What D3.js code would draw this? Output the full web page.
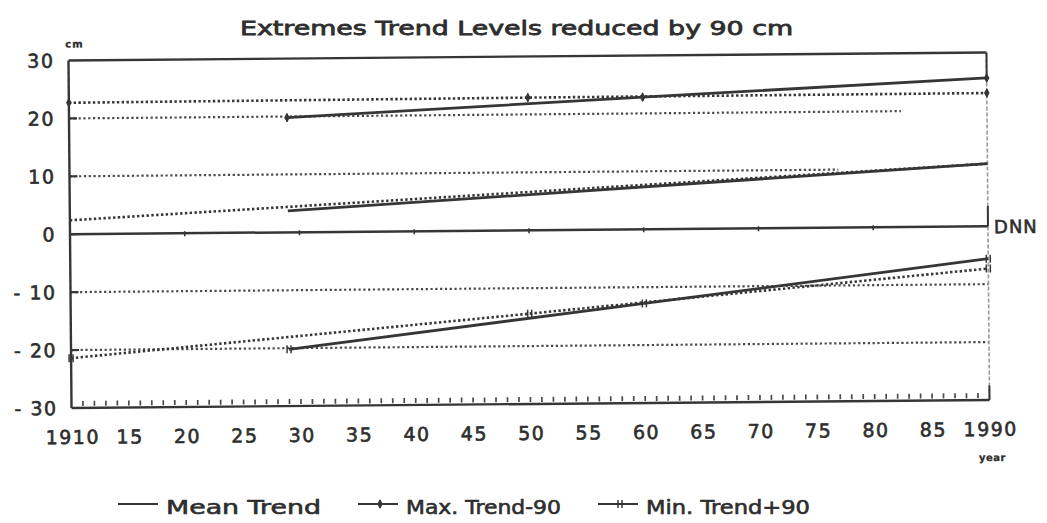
<!DOCTYPE html>
<html>
<head>
<meta charset="utf-8">
<script src="https://cdn.jsdelivr.net/npm/d3@7"></script>
<style>
  html, body { margin: 0; padding: 0; background: #ffffff; }
  svg { display: block; }
  text { font-family: "DejaVu Sans", "Liberation Sans", sans-serif; fill: #2e2e2e; stroke: #2e2e2e; stroke-width: 0.6px; }
</style>
</head>
<body>
<svg id="chart" width="1047" height="523"></svg>
<script>
// Axis ticks
const xTickYears  = [1910, 1915, 1920, 1925, 1930, 1935, 1940, 1945, 1950, 1955, 1960, 1965, 1970, 1975, 1980, 1985, 1990];
const xTickLabels = ["1910", "15", "20", "25", "30", "35", "40", "45", "50", "55", "60", "65", "70", "75", "80", "85", "1990"];
const yTicks      = [30, 20, 10, 0, -10, -20, -30];
const yTickLabels = ["30", "20", "10", "0", "- 10", "- 20", "- 30"];
const gridValues  = [20, 10, -10, -20];
const gridEndYear = [1982.5, 1977, 1990, 1990];
const zeroTickYears = [1920, 1930, 1940, 1950, 1960, 1970, 1980];

// Max. Trend - 90 cm
const maxFullYears = [1910, 1950, 1990];
const maxFull      = [22.7, 22.9, 23.0];
const maxLateYears = [1929, 1960, 1990];
const maxLate      = [19.8, 22.8, 25.6];

// Mean Trend
const meanFullYears = [1910, 1990];
const meanFull      = [2.4, 10.8];
const meanLateYears = [1929, 1990];
const meanLate      = [3.7, 10.8];

// Min. Trend + 90 cm
const minFullYears = [1910, 1950, 1990];
const minFull      = [-21.4, -14.4, -7.3];
const minLateYears = [1929, 1960, 1990];
const minLate      = [-20.2, -12.8, -5.6];

const legendLabels = ["Mean Trend", "Max. Trend-90", "Min. Trend+90"];

const ink = "#363636";
const svg = d3.select("#chart");

const x = d3.scaleLinear().domain([1910, 1990]).range([70, 988]);
const y = d3.scaleLinear().domain([-30, 30]).range([404, 56.5]);

// Title
svg.append("text")
  .attr("x", 240).attr("y", 35)
  .attr("textLength", 553).attr("lengthAdjust", "spacingAndGlyphs")
  .style("font-size", "20px")
  .style("stroke-width", "0.8px")
  .text("Extremes Trend Levels reduced by 90 cm");

// The plotted frame sits very slightly tilted
const g = svg.append("g").attr("transform", "rotate(-0.5, 528, 232)");

// Dotted grid lines
g.selectAll("line.grid").data(gridValues).join("line")
  .attr("class", "grid")
  .attr("x1", x(1910)).attr("x2", (d, i) => x(gridEndYear[i]))
  .attr("y1", d => y(d)).attr("y2", d => y(d))
  .attr("stroke", "#484848").attr("stroke-width", 2.2)
  .attr("stroke-dasharray", "2.2,2.6");

// Frame: top and left solid, right side faded
g.append("line")
  .attr("x1", x(1910)).attr("x2", x(1990))
  .attr("y1", y(30)).attr("y2", y(30))
  .attr("stroke", ink).attr("stroke-width", 2.4);
g.append("line")
  .attr("x1", x(1910)).attr("x2", x(1910))
  .attr("y1", y(30)).attr("y2", y(-30))
  .attr("stroke", ink).attr("stroke-width", 2.4);
g.append("line")
  .attr("x1", x(1990)).attr("x2", x(1990))
  .attr("y1", y(30)).attr("y2", y(-30))
  .attr("stroke", "#9a9a9a").attr("stroke-width", 1.6)
  .attr("stroke-dasharray", "4,2");
const rightSolid = [[30, 25.6], [3.5, 0], [-27.5, -30]];
g.selectAll("line.rs").data(rightSolid).join("line")
  .attr("class", "rs")
  .attr("x1", x(1990)).attr("x2", x(1990))
  .attr("y1", d => y(d[0])).attr("y2", d => y(d[1]))
  .attr("stroke", ink).attr("stroke-width", 2);

// Bottom axis at -30 with yearly inward ticks
g.append("line")
  .attr("x1", x(1910)).attr("x2", x(1990))
  .attr("y1", y(-30)).attr("y2", y(-30))
  .attr("stroke", ink).attr("stroke-width", 2.4);
g.selectAll("line.ytick").data(d3.range(1911, 1990)).join("line")
  .attr("class", "ytick")
  .attr("x1", d => x(d)).attr("x2", d => x(d))
  .attr("y1", y(-30) - 2).attr("y2", y(-30) - 7)
  .attr("stroke", "#4a4a4a").attr("stroke-width", 1.7);

// Left axis ticks
g.selectAll("line.ltick").data(yTicks.slice(1, -1)).join("line")
  .attr("class", "ltick")
  .attr("x1", x(1910)).attr("x2", x(1910) + 8)
  .attr("y1", d => y(d)).attr("y2", d => y(d))
  .attr("stroke", ink).attr("stroke-width", 2.2);

// Zero line (DNN) with decade ticks
g.append("line")
  .attr("x1", x(1910)).attr("x2", x(1990))
  .attr("y1", y(0)).attr("y2", y(0))
  .attr("stroke", ink).attr("stroke-width", 2.5);
g.selectAll("line.ztick").data(zeroTickYears).join("line")
  .attr("class", "ztick")
  .attr("x1", d => x(d)).attr("x2", d => x(d))
  .attr("y1", y(0) - 2).attr("y2", y(0) + 3)
  .attr("stroke", ink).attr("stroke-width", 1.6);

// Tick labels
g.selectAll("text.ylab").data(yTicks).join("text")
  .attr("class", "ylab")
  .attr("x", 56).attr("y", d => y(d) + 7)
  .attr("text-anchor", "end")
  .style("font-size", "19px")
  .style("letter-spacing", "1.5px")
  .text((d, i) => yTickLabels[i]);

g.selectAll("text.xlab").data(xTickYears).join("text")
  .attr("class", "xlab")
  .attr("x", d => x(d) + 1).attr("y", y(-30) + 36)
  .attr("text-anchor", "middle")
  .style("font-size", "19px")
  .style("letter-spacing", "1.5px")
  .text((d, i) => xTickLabels[i]);

g.append("text")
  .attr("x", x(1910) - 3).attr("y", y(30) - 13)
  .style("font-size", "10px").style("font-weight", "bold")
  .style("letter-spacing", "1px").style("stroke-width", "0.3px")
  .text("cm");
g.append("text")
  .attr("x", x(1990) - 11).attr("y", y(-30) + 61)
  .style("font-size", "10px").style("font-weight", "bold")
  .style("letter-spacing", "0.5px").style("stroke-width", "0.3px")
  .text("year");
g.append("text")
  .attr("x", x(1990) + 6).attr("y", y(0) + 7)
  .style("font-size", "18px")
  .style("letter-spacing", "1px")
  .text("DNN");

// Series lines
const line = d3.line().x(d => x(d[0])).y(d => y(d[1]));
const pairs = (yrs, vals) => yrs.map((yr, i) => [yr, vals[i]]);

const series = [
  { pts: pairs(maxFullYears, maxFull),   dotted: true,  mark: "max" },
  { pts: pairs(maxLateYears, maxLate),   dotted: false, mark: "max" },
  { pts: pairs(meanFullYears, meanFull), dotted: true,  mark: null },
  { pts: pairs(meanLateYears, meanLate), dotted: false, mark: null },
  { pts: pairs(minFullYears, minFull),   dotted: true,  mark: "min" },
  { pts: pairs(minLateYears, minLate),   dotted: false, mark: "min" }
];

series.forEach(s => {
  g.append("path")
    .attr("d", line(s.pts))
    .attr("fill", "none")
    .attr("stroke", ink)
    .attr("stroke-width", s.dotted ? 2.6 : 2.8)
    .attr("stroke-dasharray", s.dotted ? "2.4,2.4" : null);
});

// Point markers: a plus for the maxima, a double tick for the minima
function drawMarker(sel, mark, cx, cy) {
  if (mark === "max") {
    sel.append("path")
      .attr("d", d3.symbol(d3.symbolDiamond, 28)())
      .attr("transform", `translate(${cx},${cy})`)
      .attr("fill", ink);
    sel.append("line")
      .attr("x1", cx).attr("x2", cx).attr("y1", cy - 4).attr("y2", cy + 4)
      .attr("stroke", ink).attr("stroke-width", 1.6);
  } else if (mark === "min") {
    [-2, 2].forEach(o => {
      sel.append("line")
        .attr("x1", cx + o).attr("x2", cx + o).attr("y1", cy - 4).attr("y2", cy + 4)
        .attr("stroke", ink).attr("stroke-width", 1.5);
    });
  }
}
series.forEach(s => {
  if (!s.mark) return;
  s.pts.forEach(p => drawMarker(g, s.mark, x(p[0]), y(p[1])));
});

// Legend
const legendX = [118, 358, 598];
const legendW = [155, 155, 164];
const leg = svg.append("g");
legendLabels.forEach((lab, i) => {
  const lx = legendX[i], ly = 504;
  leg.append("line")
    .attr("x1", lx).attr("x2", lx + 40).attr("y1", ly).attr("y2", ly)
    .attr("stroke", ink).attr("stroke-width", 2.2);
  if (i === 1) drawMarker(leg, "max", lx + 22, ly);
  if (i === 2) drawMarker(leg, "min", lx + 22, ly);
  leg.append("text")
    .attr("x", lx + 48).attr("y", ly + 10)
    .attr("textLength", legendW[i]).attr("lengthAdjust", "spacingAndGlyphs")
    .style("font-size", "19px")
    .text(lab);
});
</script>
</body>
</html>
